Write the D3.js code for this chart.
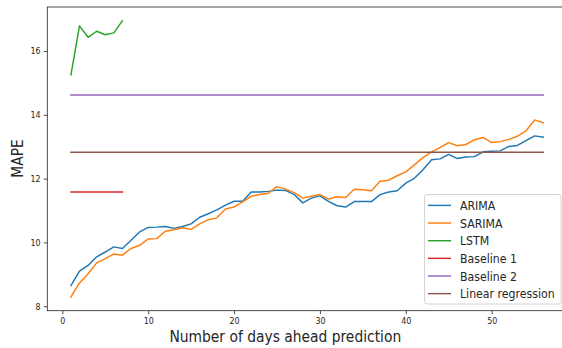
<!DOCTYPE html>
<html>
<head>
<meta charset="utf-8">
<script src="https://cdn.jsdelivr.net/npm/d3@7"></script>
<style>
  html, body { margin: 0; padding: 0; background: #fff; overflow: hidden; }
  svg { display: block; }
  text { font-family: "DejaVu Sans Condensed", "DejaVu Sans", sans-serif; fill: #262626; }
</style>
</head>
<body>
<script>
// Forecast horizon (days ahead) and MAPE per model
const days = d3.range(1, 57);
const lstmDays = d3.range(1, 8);

const arima = [
  8.65, 9.10, 9.28, 9.55, 9.70, 9.86, 9.81, 10.07, 10.33, 10.47,
  10.48, 10.50, 10.44, 10.50, 10.58, 10.79, 10.90, 11.02, 11.17, 11.29,
  11.29, 11.58, 11.58, 11.60, 11.64, 11.63, 11.50, 11.24, 11.39, 11.46,
  11.29, 11.15, 11.11, 11.28, 11.28, 11.28, 11.50, 11.58, 11.62, 11.86,
  12.01, 12.28, 12.59, 12.62, 12.76, 12.63, 12.68, 12.69, 12.84, 12.86,
  12.87, 13.01, 13.04, 13.19, 13.34, 13.30
];
const sarima = [
  8.29, 8.73, 9.02, 9.36, 9.49, 9.64, 9.60, 9.81, 9.91, 10.11,
  10.12, 10.35, 10.40, 10.46, 10.41, 10.58, 10.71, 10.77, 11.05, 11.11,
  11.27, 11.45, 11.50, 11.54, 11.75, 11.67, 11.56, 11.39, 11.45, 11.50,
  11.36, 11.43, 11.41, 11.67, 11.65, 11.62, 11.92, 11.95, 12.09, 12.21,
  12.43, 12.66, 12.84, 12.98, 13.13, 13.03, 13.07, 13.22, 13.29, 13.13,
  13.16, 13.23, 13.33, 13.50, 13.84, 13.75
];
const lstm = [15.25, 16.79, 16.43, 16.62, 16.51, 16.57, 16.95];
const baseline1 = 11.58;   // days 1-7
const baseline2 = 14.62;   // days 1-56
const linearRegression = 12.83; // days 1-56

const xTicks = [0, 10, 20, 30, 40, 50];
const yTicks = [8, 10, 12, 14, 16];
const seriesNames = ["ARIMA", "SARIMA", "LSTM", "Baseline 1", "Baseline 2", "Linear regression"];
const colors = ["#1f77b4", "#ff7f0e", "#2ca02c", "#d62728", "#9467bd", "#8c564b"];

const series = [
  days.map((d, i) => [d, arima[i]]),
  days.map((d, i) => [d, sarima[i]]),
  lstmDays.map((d, i) => [d, lstm[i]]),
  lstmDays.map(d => [d, baseline1]),
  days.map(d => [d, baseline2]),
  days.map(d => [d, linearRegression])
];

const W = 562, H = 348;
const plotLeft = 47.3, plotRight = 566.8, plotTop = 7, plotBottom = 310.7;

const svg = d3.select("body").append("svg").attr("width", W).attr("height", H);

const x = d3.scaleLinear().domain([-1.75, 58.75]).range([plotLeft, plotRight]);
const y = d3.scaleLinear().domain([7.86, 17.38]).range([plotBottom, plotTop]);

const line = d3.line().x(d => x(d[0])).y(d => y(d[1]));

// Data lines
svg.append("g").selectAll("path")
  .data(series)
  .join("path")
  .attr("d", d => line(d))
  .attr("fill", "none")
  .attr("stroke", (d, i) => colors[i])
  .attr("stroke-width", 1.45)
  .attr("stroke-linejoin", "round")
  .attr("stroke-linecap", "square");

// Axes
const xAxis = d3.axisBottom(x).tickValues(xTicks).tickSize(3.5).tickPadding(3.2).tickFormat(d3.format("d"));
const yAxis = d3.axisLeft(y).tickValues(yTicks).tickSize(3.5).tickPadding(3.2).tickFormat(d3.format("d"));

const gx = svg.append("g").attr("transform", `translate(0,${plotBottom})`).call(xAxis);
const gy = svg.append("g").attr("transform", `translate(${plotLeft},0)`).call(yAxis);
[gx, gy].forEach(g => {
  g.select(".domain").remove();
  g.selectAll(".tick line").attr("stroke", "#222").attr("stroke-width", 0.8);
  g.selectAll(".tick text").attr("font-size", 8.8).attr("fill", "#262626")
    .style("font-family", '"DejaVu Sans Condensed", "DejaVu Sans", sans-serif');
});

// Frame
svg.append("rect")
  .attr("x", plotLeft).attr("y", plotTop)
  .attr("width", plotRight - plotLeft).attr("height", plotBottom - plotTop)
  .attr("fill", "none").attr("stroke", "#222").attr("stroke-width", 0.8);

// Axis titles
svg.append("text")
  .attr("x", 285.3).attr("y", 341.5)
  .attr("text-anchor", "middle")
  .attr("font-size", 15.4)
  .text("Number of days ahead prediction");

svg.append("text")
  .attr("transform", `translate(23,158.5) rotate(-90)`)
  .attr("text-anchor", "middle")
  .attr("font-size", 15.4)
  .text("MAPE");

// Legend
const lg = svg.append("g");
lg.append("rect")
  .attr("x", 424.5).attr("y", 194.5)
  .attr("width", 136.5).attr("height", 109.5)
  .attr("rx", 2.5)
  .attr("fill", "#fff").attr("fill-opacity", 0.8)
  .attr("stroke", "#d4d4d4").attr("stroke-width", 1);

const rowY = i => 205.4 + i * 17.65;
lg.selectAll("line.key")
  .data(seriesNames)
  .join("line")
  .attr("class", "key")
  .attr("x1", 428).attr("x2", 451)
  .attr("y1", (d, i) => rowY(i)).attr("y2", (d, i) => rowY(i))
  .attr("stroke", (d, i) => colors[i])
  .attr("stroke-width", 1.45);

lg.selectAll("text.key")
  .data(seriesNames)
  .join("text")
  .attr("class", "key")
  .attr("x", 460)
  .attr("y", (d, i) => rowY(i) + 4.5)
  .attr("font-size", 12.2)
  .text(d => d);
</script>
</body>
</html>
